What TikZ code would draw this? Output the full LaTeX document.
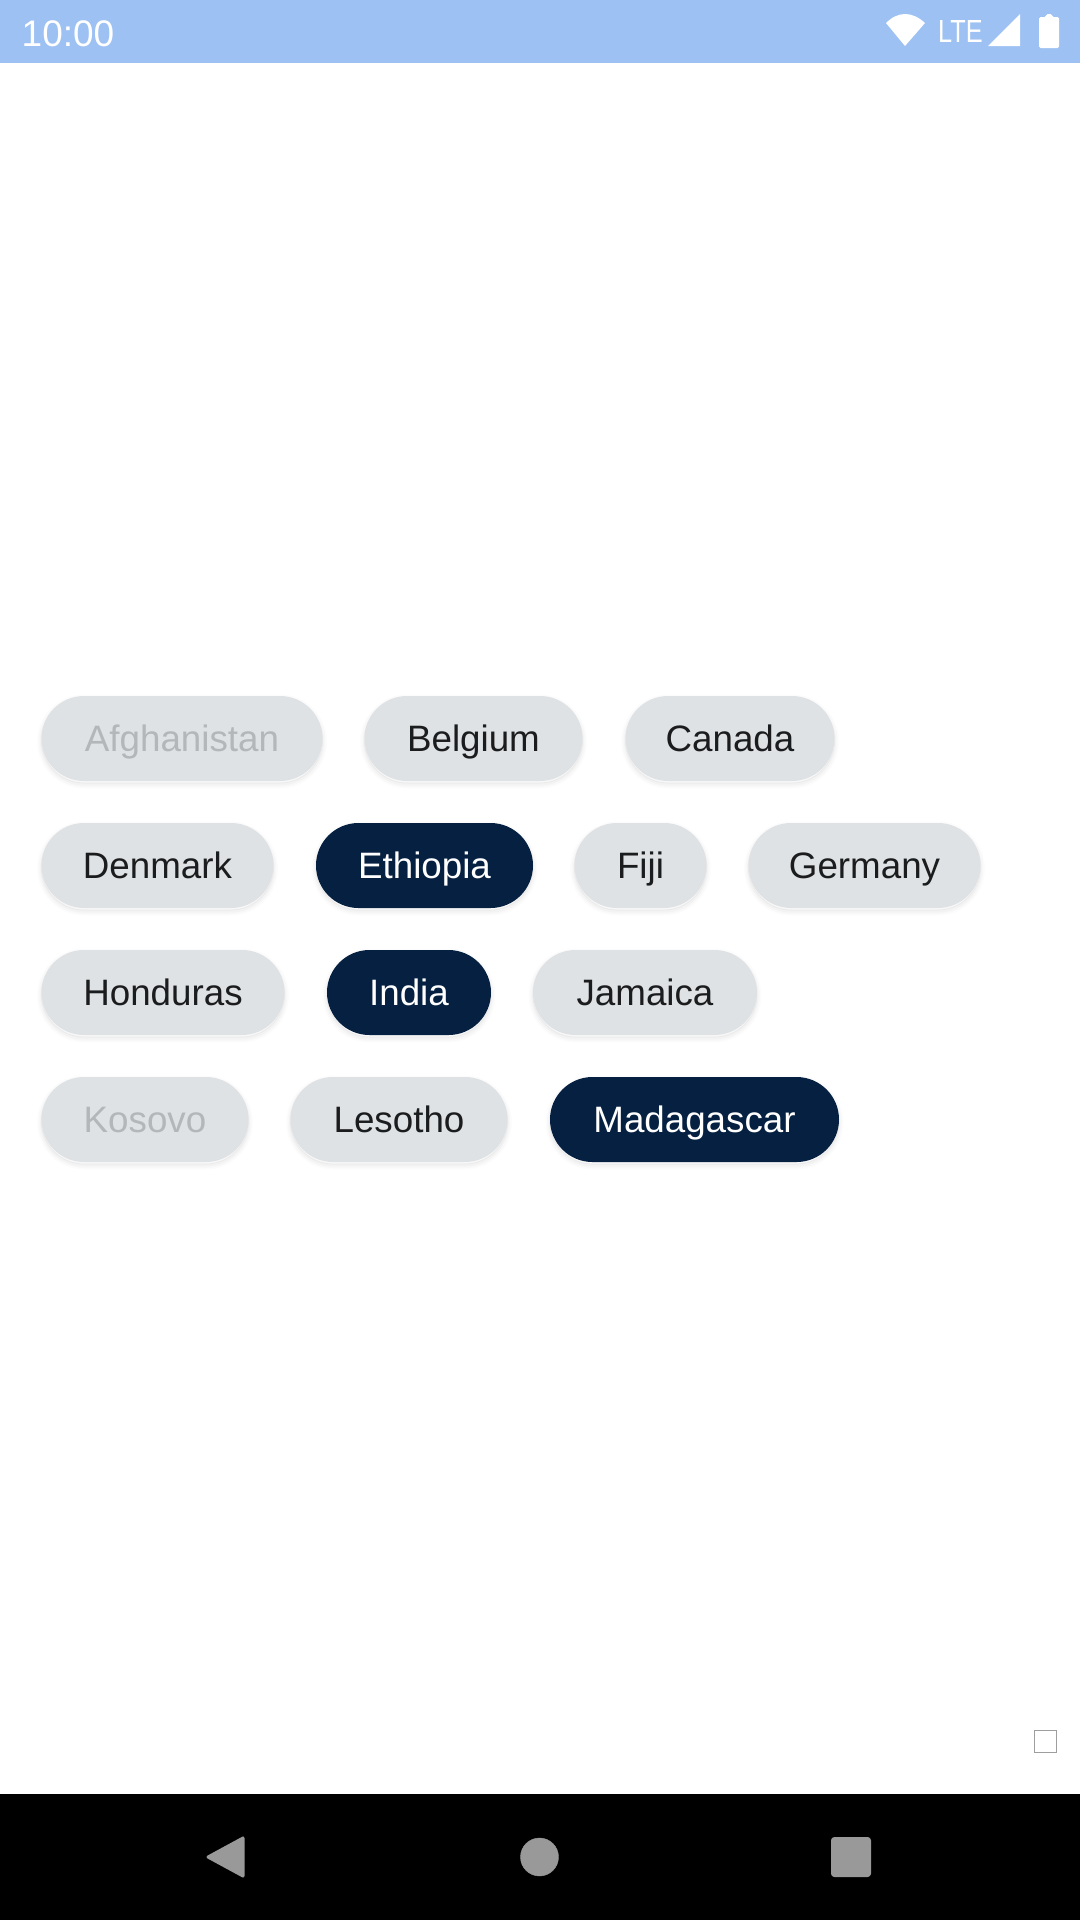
\documentclass[tikz,border=0pt]{standalone}
\usepackage{fontspec}
\setmainfont{Liberation Sans}
\usetikzlibrary{shapes.misc}
\definecolor{barblue}{HTML}{9DC1F3}
\definecolor{pillgrey}{HTML}{DFE2E4}
\definecolor{navy}{HTML}{052040}
\definecolor{inkdark}{HTML}{1B1C1D}
\definecolor{inkoff}{HTML}{B4B7BA}
\definecolor{navgrey}{HTML}{999999}
\tikzset{
  pill/.style={rounded rectangle, rounded rectangle arc length=180, inner sep=0pt, minimum height=85pt,
    text height=26.3pt, text depth=0pt, align=center, font=\fontsize{36.75pt}{44pt}\selectfont,
    preaction={draw=black, draw opacity=.012, line width=9pt, transform canvas={yshift=-3pt}},
    preaction={draw=black, draw opacity=.016, line width=6pt, transform canvas={yshift=-3pt}},
    preaction={draw=black, draw opacity=.02, line width=3pt, transform canvas={yshift=-3pt}},
    preaction={draw=black, draw opacity=.03, line width=1pt, transform canvas={yshift=-2pt}}},
  normalpill/.style={pill, fill=pillgrey, text=inkdark},
  offpill/.style={pill, fill=pillgrey, text=inkoff},
  onpill/.style={pill, fill=navy, text=white},
  navicon/.style={fill=navgrey, draw=navgrey, line join=round},
  barglyph/.style={fill=white, draw=none}
}
\begin{document}
\begin{tikzpicture}[x=1pt,y=-1pt]
\useasboundingbox (0,0) rectangle (1080,1920);
\fill[white] (0,0) rectangle (1080,1920);
% status bar
\fill[barblue] (0,0) rectangle (1080,63);
\node[anchor=base west, inner sep=0pt, text=white, font=\fontsize{37pt}{44pt}\selectfont] (clock) at (21.5,46) {10:00};
\fill[barglyph] (905,46) -- (886,23) .. controls (898,11) and (912,11) .. (925,23) -- cycle;
\node[anchor=base west, inner sep=0pt, text=white, xscale=.79, font=\fontsize{32pt}{38pt}\selectfont] (lte) at (938,42) {LTE};
\fill[barglyph] (988,46) -- (1020,14) -- (1020,46) -- cycle;
\fill[barglyph, rounded corners=1.5pt] (1039,17) -- (1046,17) -- (1046,14) -- (1052,14) -- (1052,17) -- (1059,17) -- (1059,48) -- (1039,48) -- cycle;
% chips
\node[offpill, minimum width=281pt] (afg) at (182,738.5) {Afghanistan};
\node[normalpill, minimum width=218pt] (bel) at (473.5,738.5) {Belgium};
\node[normalpill, minimum width=209pt] (can) at (730,738.5) {Canada};
\node[normalpill, minimum width=232pt] (den) at (157.5,865.5) {Denmark};
\node[onpill, minimum width=217pt] (eth) at (424.5,865.5) {Ethiopia};
\node[normalpill, minimum width=132pt] (fij) at (640.5,865.5) {Fiji};
\node[normalpill, minimum width=232pt] (ger) at (864.5,865.5) {Germany};
\node[normalpill, minimum width=243pt] (hon) at (163,992.5) {Honduras};
\node[onpill, minimum width=164pt] (ind) at (409,992.5) {India};
\node[normalpill, minimum width=224pt] (jam) at (645,992.5) {Jamaica};
\node[offpill, minimum width=207pt] (kos) at (145,1119.5) {Kosovo};
\node[normalpill, minimum width=217pt] (les) at (399,1119.5) {Lesotho};
\node[onpill, minimum width=289pt] (mad) at (694.5,1119.5) {Madagascar};
% small square
\draw[draw=black!38, fill=white, line width=1pt] (1034,1730) rectangle (1056,1752);
% nav bar
\fill[black] (0,1794) rectangle (1080,1920);
\draw[navicon, line width=3pt] (208,1857) -- (243,1838) -- (243,1876) -- cycle;
\fill[navicon] (539.5,1857) circle (19);
\draw[navicon, rounded corners=3pt, line width=1pt] (831.5,1837.5) rectangle (870.5,1876.5);
\end{tikzpicture}
\end{document}
